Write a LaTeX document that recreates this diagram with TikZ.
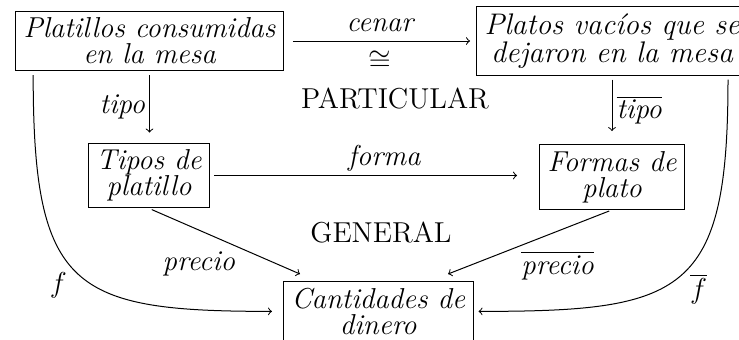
\documentclass[tikz,border=0pt]{standalone}
\usepackage{fontspec}
\usetikzlibrary{calc}
\begin{document}
\begin{tikzpicture}[x=0.5pt,y=-0.5pt,
  line width=0.5pt,
  box/.style={draw, font=\fontsize{14.4}{13}\selectfont\itshape, align=center, inner xsep=4pt, inner ysep=3.3pt},
  plain/.style={font=\Large, inner sep=0pt},
  lab/.style={font=\Large\itshape, inner sep=2pt},
  arr/.style={->}]
\useasboundingbox (0,0) rectangle (739,339);
\node[box] (A) at (149.5,41) {Platillos consumidas\\en la mesa};
\node[box, anchor=west, font=\fontsize{14.9}{13}\selectfont\itshape] (B) at (476,41) {Platos vacíos que se\\dejaron en la mesa};
\node[box] (C) at (149,175.5) {Tipos de\\platillo};
\node[box] (D) at (612,177) {Formas de\\plato};
\node[box, anchor=north west] (E) at (283,281) {Cantidades de\\dinero};
\node[plain] (P) at (395,99) {PARTICULAR};
\node[plain] (G) at (381,233) {GENERAL};
\coordinate (pe) at (300,274);
\coordinate (qe) at (448,274);
\draw[arr, shorten <=4.5pt, shorten >=3pt] (A.east) -- node[lab, above, inner sep=0pt, yshift=4.5pt]{cenar} node[lab, below, inner sep=0pt, yshift=-4.5pt]{$\cong$} (A.east -| B.west);
\draw[arr, shorten <=2pt, shorten >=5pt] (A.south) -- node[lab, left]{tipo} (A.south |- C.north);
\draw[arr, shorten <=2pt, shorten >=6.5pt] (D.north |- B.south) -- node[lab, right]{$\overline{\textit{tipo}}$} (D.north);
\draw[arr, shorten <=2pt, shorten >=11pt] (C.east) -- node[lab, above, pos=0.53]{forma} (C.east -| D.west);
\draw[arr, shorten <=1.5pt] (C.south) -- node[lab, pos=0.6, anchor=north east]{precio} (pe);
\draw[arr, shorten <=1.5pt] (D.south) -- node[lab, pos=0.58, anchor=north west]{$\overline{\textit{precio}}$} (qe);
\draw[arr, shorten >=5.5pt] ($(A.south west)+(18,4)$) .. controls +(0,215) and +(-210,0) .. node[lab, pos=0.5, anchor=north east, xshift=-4pt, yshift=3pt]{$f$} (E.west);
\draw[arr, shorten >=2.5pt] ($(B.south west)+(252,4)$) .. controls +(0,215) and +(210,0) .. node[lab, pos=0.5, anchor=north west, xshift=3pt, yshift=3pt]{$\overline{f}$} (E.east);
\end{tikzpicture}
\end{document}
